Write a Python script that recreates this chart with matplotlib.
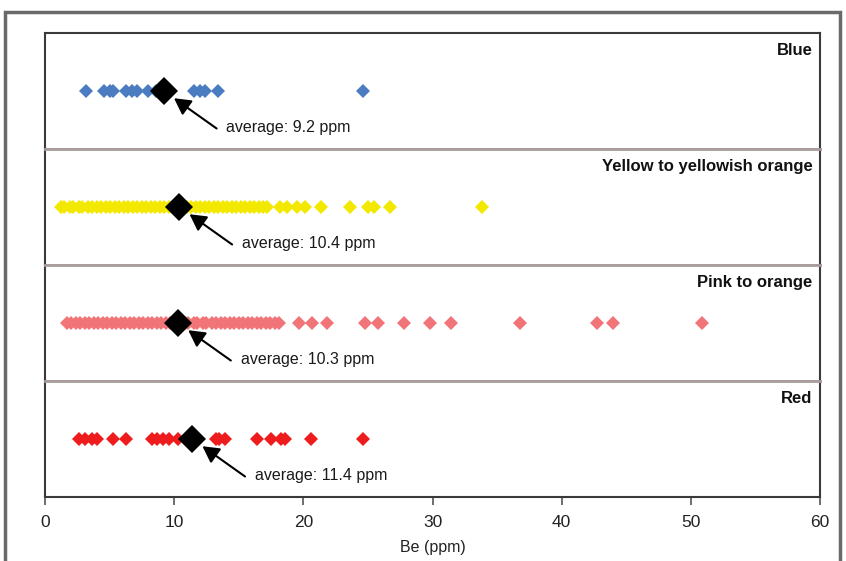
import matplotlib
matplotlib.use("Agg")
import matplotlib.pyplot as plt
from matplotlib.patches import Rectangle

plt.rcParams['font.family'] = ['Liberation Sans', 'DejaVu Sans']

# ---------------- data ----------------
categories = ["Blue", "Yellow to yellowish orange", "Pink to orange", "Red"]
colors = ["#4b7cc2", "#f2e800", "#f07478", "#ee1c1c"]

blue_values = [3.2, 4.6, 5.0, 5.3, 6.3, 6.7, 7.1, 8.0, 8.6, 11.5, 12.0, 12.4, 13.4, 24.6]

yellow_values = [1.2, 1.5, 1.9, 2.2, 2.6, 2.9, 3.3, 3.6, 4.0, 4.3, 4.7, 5.0, 5.4, 5.7,
                 6.1, 6.4, 6.8, 7.1, 7.5, 7.8, 8.2, 8.5, 8.9, 9.2, 9.6, 9.9, 10.3, 10.6,
                 11.0, 11.3, 11.7, 12.0, 12.4, 12.7, 13.1, 13.4, 13.8, 14.1, 14.5, 14.8,
                 15.2, 15.5, 15.9, 16.2, 16.6, 16.9, 17.2,
                 18.2, 18.7, 19.5, 20.1, 21.4, 23.6, 25.0, 25.5, 26.7, 33.8]

pink_values = [1.7, 2.0, 2.4, 2.7, 3.1, 3.4, 3.8, 4.1, 4.5, 4.8, 5.2, 5.5, 5.9, 6.2,
               6.6, 6.9, 7.3, 7.6, 8.0, 8.3, 8.7, 9.0, 9.4, 9.7, 10.1, 10.4, 10.8, 11.1,
               11.5, 11.8, 12.2, 12.5, 12.9, 13.2, 13.6, 13.9, 14.3, 14.6, 15.0, 15.3,
               15.7, 16.0, 16.4, 16.7, 17.1, 17.4, 17.8, 18.1,
               19.7, 20.7, 21.8, 24.8, 25.8, 27.8, 29.8, 31.4, 36.8, 42.7, 44.0, 50.9]

red_values = [2.6, 3.1, 3.6, 4.0, 5.3, 6.3, 8.3, 8.7, 9.1, 9.6, 10.3, 13.2, 13.5, 13.9,
              16.4, 17.5, 18.3, 18.6, 20.6, 24.6]

series = [blue_values, yellow_values, pink_values, red_values]
averages = [9.2, 10.4, 10.3, 11.4]
avg_labels = ["average: 9.2 ppm", "average: 10.4 ppm", "average: 10.3 ppm", "average: 11.4 ppm"]

x_ticks = [0, 10, 20, 30, 40, 50, 60]
x_label = "Be (ppm)"

# ---------------- figure ----------------
W, H = 846, 561
fig = plt.figure(figsize=(W / 100, H / 100), dpi=100)

left = 45 / W
right = 820 / W
top = 1 - 33 / H
bottom = 1 - 497 / H
n = len(categories)
ph = (top - bottom) / n

frame_col = "#3a3a3a"
div_col = "#a89c9c"

axes = []
for i, (cat, vals, col, avg, lab) in enumerate(zip(categories, series, colors, averages, avg_labels)):
    ax = fig.add_axes([left, top - (i + 1) * ph, right - left, ph])
    axes.append(ax)
    ax.set_xlim(0, 60)
    ax.set_ylim(-1, 1)
    ax.plot(vals, [0] * len(vals), linestyle='none', marker='D', ms=7.2,
            color=col, markeredgewidth=0)
    ax.plot([avg], [0], linestyle='none', marker='D', ms=14, color='black',
            markeredgewidth=0, zorder=5)
    ax.annotate('', xy=(avg, 0), xycoords='data',
                xytext=(38, -27), textcoords='offset points',
                arrowprops=dict(arrowstyle='-|>,head_length=0.55,head_width=0.3',
                                color='black', lw=1.5,
                                mutation_scale=18, shrinkA=0, shrinkB=9),
                annotation_clip=False, zorder=6)
    ax.annotate(lab, xy=(avg, 0), xycoords='data', xytext=(45, -26),
                textcoords='offset points', ha='left', va='center',
                fontsize=11.5, color='#1a1a1a')
    ax.text(0.99, 0.85, cat, transform=ax.transAxes, ha='right', va='center',
            fontsize=12, fontweight='bold', color='#111111')
    ax.set_yticks([])
    for s in ['left', 'right']:
        ax.spines[s].set_color(frame_col)
        ax.spines[s].set_linewidth(1.5)
    ax.spines['top'].set_color(frame_col if i == 0 else div_col)
    ax.spines['top'].set_linewidth(1.5 if i == 0 else 2.0)
    ax.spines['bottom'].set_color(div_col if i < n - 1 else frame_col)
    ax.spines['bottom'].set_linewidth(2.0 if i < n - 1 else 1.5)
    if i < n - 1:
        ax.set_xticks([])
    else:
        ax.set_xticks(x_ticks)
        ax.set_xticklabels([str(t) for t in x_ticks])
        ax.tick_params(axis='x', direction='out', length=6, width=1.2,
                       color='#555555', labelsize=12.5, pad=7, labelcolor='#222222')
        ax.set_xlabel(x_label, fontsize=11.5, color='#222222', labelpad=7)

# outer border
fig.patches.append(Rectangle((5 / W, -0.05), (840 - 5) / W, (1 - 12 / H) + 0.05,
                             transform=fig.transFigure, fill=False,
                             edgecolor='#6a6a6a', linewidth=2.5))

fig.savefig("out.png", dpi=100)
